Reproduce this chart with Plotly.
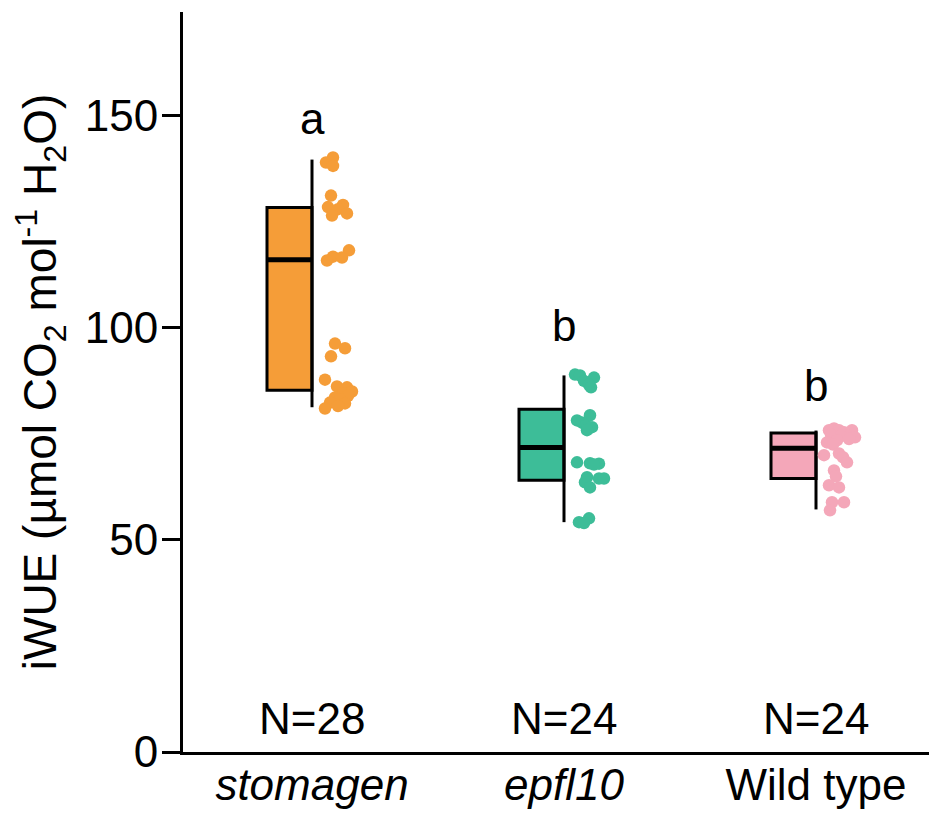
import plotly.graph_objects as go

# ---------------- data ----------------
categories = ["stomagen", "epfl10", "Wild type"]
tick_labels = ["<i>stomagen</i>", "<i>epfl10</i>", "Wild type"]
n_labels = ["N=28", "N=24", "N=24"]
letters = ["a", "b", "b"]
letter_y = [149.5, 100.5, 86.5]

q1 = [85.3, 64.1, 64.5]
median = [116.1, 71.8, 71.6]
q3 = [128.4, 80.8, 75.2]
whisker_low = [81.3, 54.2, 57.2]
whisker_high = [139.7, 88.8, 75.8]

stomagen_vals = [140.2, 139.0, 138.2,
                 131.2, 129.0, 128.5, 128.0, 127.0, 126.5,
                 118.3, 116.8, 116.6, 115.9,
                 96.3, 95.2, 93.3,
                 87.8, 86.2, 86.0, 85.0, 84.6, 84.0, 83.6, 83.2, 82.4, 82.2, 81.6, 81.0]
stomagen_jit = [21, 14, 21,
                19, 31, 16, 26, 35, 20,
                37, 21, 30, 15,
                23, 33, 19,
                13, 25, 35, 40, 31, 36, 23, 28, 18, 33, 26, 13]

epfl10_vals = [89.0, 88.8, 88.3, 87.5, 86.6, 86.0,
               79.4, 78.2, 77.7, 77.0, 76.6, 75.9,
               68.3, 68.1, 68.0, 67.8, 64.8, 64.5, 64.5, 63.6, 62.4,
               55.1, 54.2, 54.0]
epfl10_jit = [11, 16, 30, 20, 25, 27,
              26, 13, 18, 22, 28, 23,
              13, 26, 35, 30, 23, 35, 40, 21, 26,
              25, 15, 20]

wild_vals = [76.3, 75.9, 75.9, 75.9, 75.4, 74.8, 74.7, 74.5, 74.2, 73.8, 73.5, 73.0,
             72.5, 70.4, 70.0, 69.5, 68.3, 66.4, 65.0, 62.9, 62.4, 58.9, 58.9, 57.0]
wild_jit = [18, 13, 23, 36, 28, 15, 30, 25, 39, 33, 21, 11,
            17, 23, 8, 27, 31, 18, 20, 13, 23, 16, 28, 14]

point_values = [stomagen_vals, epfl10_vals, wild_vals]
point_jitter = [stomagen_jit, epfl10_jit, wild_jit]   # px offsets right of whisker

colors = ["#F59D38", "#3DBD98", "#F4A7B9"]

# ---------------- geometry / style ----------------
PX_PER_UNIT = 252.0
BOX_W = 45 / PX_PER_UNIT
FONT = "Arial, Liberation Sans, sans-serif"
FS = 44

fig = go.Figure()

xs = list(range(len(categories)))

# boxes (left half of each group)
for i in xs:
    fig.add_trace(go.Bar(
        x=[i], y=[q3[i] - q1[i]], base=[q1[i]],
        width=BOX_W, offset=-BOX_W,
        marker=dict(color=colors[i], line=dict(color="black", width=3)),
        showlegend=False, hoverinfo="skip"))

# medians
mx, my = [], []
for i in xs:
    mx += [i - BOX_W, i, None]
    my += [median[i], median[i], None]
fig.add_trace(go.Scatter(x=mx, y=my, mode="lines",
                         line=dict(color="black", width=5), showlegend=False))

# whiskers
wx, wy = [], []
for i in xs:
    wx += [i, i, None]
    wy += [whisker_low[i], whisker_high[i], None]
fig.add_trace(go.Scatter(x=wx, y=wy, mode="lines",
                         line=dict(color="black", width=3), showlegend=False))

# points
for i in xs:
    fig.add_trace(go.Scatter(
        x=[i + j / PX_PER_UNIT for j in point_jitter[i]],
        y=point_values[i], mode="markers",
        marker=dict(color=colors[i], size=12.5, line=dict(width=0)),
        showlegend=False))

# letters and N labels
for i in xs:
    fig.add_annotation(x=i, y=letter_y[i], text=letters[i], showarrow=False,
                       font=dict(size=FS, color="black", family=FONT),
                       xanchor="center", yanchor="middle")
    fig.add_annotation(x=i, y=8, text=n_labels[i], showarrow=False,
                       font=dict(size=FS, color="black", family=FONT),
                       xanchor="center", yanchor="middle")

fig.update_layout(
    width=929, height=815,
    margin=dict(l=183, r=0, t=12, b=63),
    paper_bgcolor="white", plot_bgcolor="white",
    font=dict(family=FONT, color="black", size=FS),
    barmode="overlay",
    xaxis=dict(range=[-129 / PX_PER_UNIT, 2 + 113 / PX_PER_UNIT],
               tickvals=xs, ticktext=tick_labels,
               showline=True, linecolor="black", linewidth=3,
               ticks="", ticklen=0, showgrid=False, zeroline=False,
               ticklabelstandoff=-8,
               tickfont=dict(size=FS, family=FONT)),
    yaxis=dict(range=[0, 174.5], tickvals=[0, 50, 100, 150],
               showline=True, linecolor="black", linewidth=3,
               ticks="outside", ticklen=18, tickwidth=3, tickcolor="black",
               showgrid=False, zeroline=False,
               ticklabelstandoff=-5,
               tickfont=dict(size=FS, family=FONT),
               title=dict(text="iWUE (µmol CO<sub>2</sub> mol<sup>-1</sup> H<sub>2</sub>O)",
                          font=dict(size=46, family=FONT), standoff=14)),
)

fig.write_html("out.html")
